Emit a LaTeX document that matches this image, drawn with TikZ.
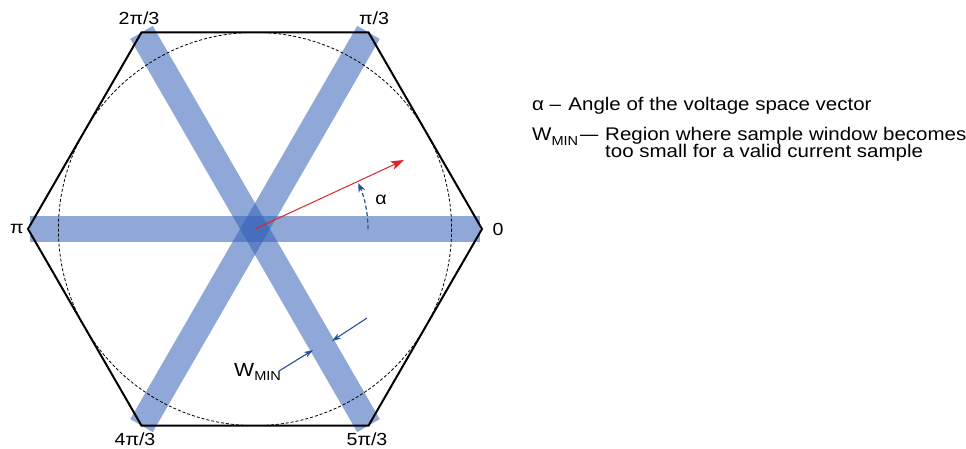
\documentclass[tikz,border=0pt]{standalone}
\usepackage{fontspec}
\setmainfont{Liberation Sans}[FakeStretch=1.12]
\usetikzlibrary{arrows.meta}
\definecolor{bandblue}{RGB}{51,97,184}
\definecolor{arrowblue}{RGB}{38,82,145}
\definecolor{vecred}{RGB}{222,38,38}
\tikzset{
  band/.style={draw=bandblue, line width=26pt, draw opacity=0.55, line cap=butt},
  hexline/.style={line width=2pt, line join=miter},
  lbl/.style={font=\fontsize{17.5}{18}\selectfont, inner sep=0pt},
  legend/.style={font=\fontsize{18.3}{17}\selectfont, inner sep=0pt, anchor=base west},
  warrow/.style={arrowblue, line width=1.1pt, -{Stealth[length=9pt,width=6pt]}},
}
\newcommand{\subtxt}[1]{\raisebox{-4.5pt}{\fontsize{13}{13}\selectfont #1}}
\begin{document}
\begin{tikzpicture}[x=1pt,y=-1pt]
\useasboundingbox (0,0) rectangle (966,449);
\fill[white] (0,0) rectangle (966,449);
\coordinate (O) at (255,229);
\coordinate (V0) at (482,229);
\coordinate (V1) at (368.5,32.4);
\coordinate (V2) at (141.5,32.4);
\coordinate (V3) at (28,229);
\coordinate (V4) at (141.5,425.6);
\coordinate (V5) at (368.5,425.6);
% bands
\draw[band, shorten <=2pt, shorten >=2pt] (V3) -- (V0);
\draw[band] (V2) -- (V5);
\draw[band] (V1) -- (V4);
% circle
\draw[line width=0.8pt, dash pattern=on 3pt off 2pt] (O) circle (196.6);
% hexagon
\draw[hexline] (V0) -- (V1) -- (V2) -- (V3) -- (V4) -- (V5) -- cycle;
% vector
\coordinate (Vt) at (404,160);
\draw[vecred, line width=1pt, -{Stealth[length=13pt,width=9pt,inset=3pt]}] (O) -- (Vt);
% alpha arc
\coordinate (A0) at (368,229);
\draw[arrowblue, line width=1.2pt, dash pattern=on 4pt off 2.5pt, -{Stealth[length=9pt,width=7pt]}] (A0) arc[start angle=0, end angle=-24, radius=113];
\node[lbl] (alpha) at (381,200) {α};
% vertex labels
\node[lbl] (l0) at (498,229) {0};
\node[lbl] (l1) at (374,18) {π/3};
\node[lbl] (l2) at (139,18) {2π/3};
\node[lbl] (l3) at (17,229) {π};
\node[lbl] (l4) at (135,439) {4π/3};
\node[lbl] (l5) at (367,439) {5π/3};
% W_MIN arrows
\coordinate (wa1) at (367,318);
\coordinate (wb1) at (332,341);
\draw[warrow] (wa1) -- (wb1);
\coordinate (wa2) at (279,371);
\coordinate (wb2) at (313,350);
\draw[warrow] (wa2) -- (wb2);
\node[legend, font=\fontsize{19}{19}\selectfont] (wmin) at (234,376) {W\subtxt{MIN}};
% legend
\node[legend] (leg1) at (532,111) {α –\hspace{0.4em}Angle of the voltage space vector};
\node[legend] (leg2w) at (532,141) {W\subtxt{MIN}\hspace{2pt}\scalebox{1.6}[1]{–}};
\node[legend] (leg2) at (605,141) {Region where sample window becomes};
\node[legend] (leg3) at (605,158) {too small for a valid current sample};
\end{tikzpicture}
\end{document}
